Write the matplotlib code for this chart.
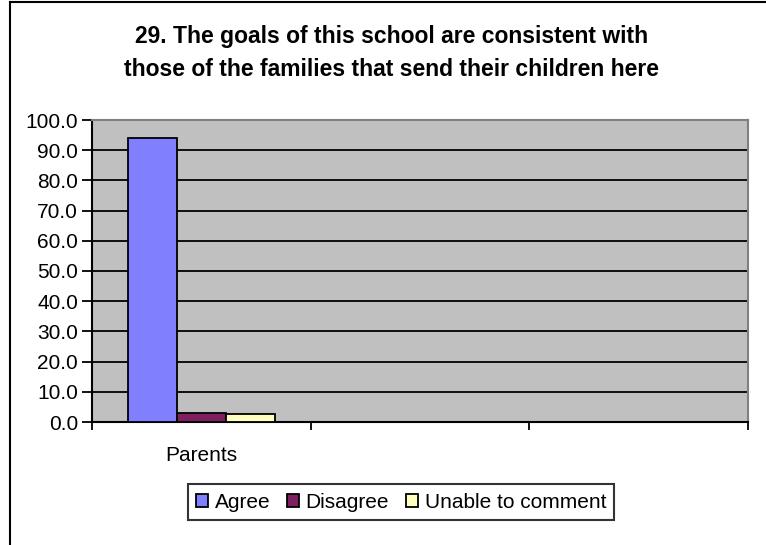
import numpy as np
import matplotlib
matplotlib.use("Agg")
import matplotlib.pyplot as plt
from matplotlib.lines import Line2D

plt.rcParams['font.family'] = ['Liberation Sans', 'DejaVu Sans']

title = "29. The goals of this school are consistent with\nthose of the families that send their children here"
categories = ["Parents", "", ""]
series_names = ["Agree", "Disagree", "Unable to comment"]
agree = [94.0, np.nan, np.nan]
disagree = [3.0, np.nan, np.nan]
unable = [2.5, np.nan, np.nan]
yticks = [0, 10, 20, 30, 40, 50, 60, 70, 80, 90, 100]
colors = ["#8080FF", "#7F1F5F", "#FFFFC0"]

W, H = 766, 545
fig = plt.figure(figsize=(W / 100, H / 100), dpi=100)
fig.patch.set_facecolor("white")

ax = fig.add_axes([92 / W, 1 - 422 / H, (748 - 92) / W, (422 - 120) / H])
ax.set_facecolor("#C0C0C0")

x = np.arange(len(categories)) + 0.5
bw = 0.225
for i, (vals, name, c) in enumerate(zip([agree, disagree, unable], series_names, colors)):
    ax.bar(x + (i - 1) * bw, vals, width=bw, color=c, edgecolor="black",
           linewidth=1.3, label=name, zorder=3)

ax.set_xlim(0, len(categories))
ax.set_ylim(0, 100)
ax.set_yticks(yticks)
ax.set_yticklabels([f"{v:.1f}" for v in yticks], fontsize=15)
ax.yaxis.grid(True, color="black", linewidth=1.3, zorder=1)
ax.set_axisbelow(True)

ax.set_xticks(np.arange(len(categories) + 1))
ax.set_xticklabels([])
ax.set_xticks(x, minor=True)
ax.set_xticklabels(categories, minor=True, fontsize=15)
ax.tick_params(axis="x", which="minor", length=0, pad=17)
ax.tick_params(axis="x", which="major", direction="out", length=6, width=1.3, color="black")
ax.tick_params(axis="y", direction="out", length=7, width=1.3, color="black", pad=3)

for s in ["left", "bottom"]:
    ax.spines[s].set_color("black")
    ax.spines[s].set_linewidth(1.5)
for s in ["top", "right"]:
    ax.spines[s].set_color("#808080")
    ax.spines[s].set_linewidth(1.5)

fig.text(392 / W, 1 - 53 / H, title, ha="center", va="center", fontsize=16.5,
         fontweight="bold", linespacing=1.55)

leg = fig.legend(loc="center", bbox_to_anchor=(401 / W, 1 - 502 / H), ncol=3,
                 fontsize=15, frameon=True, fancybox=False, edgecolor="black",
                 handlelength=0.6, handleheight=0.6, handletextpad=0.3,
                 columnspacing=0.8, borderpad=0.4, borderaxespad=0)
leg.get_frame().set_linewidth(1.5)

fig.add_artist(Line2D([9.5 / W, 9.5 / W], [0, 1 - 2 / H], color="black", linewidth=1.5))
fig.add_artist(Line2D([9.5 / W, 1], [1 - 2 / H, 1 - 2 / H], color="black", linewidth=1.5))

fig.savefig("out.png", dpi=100)
